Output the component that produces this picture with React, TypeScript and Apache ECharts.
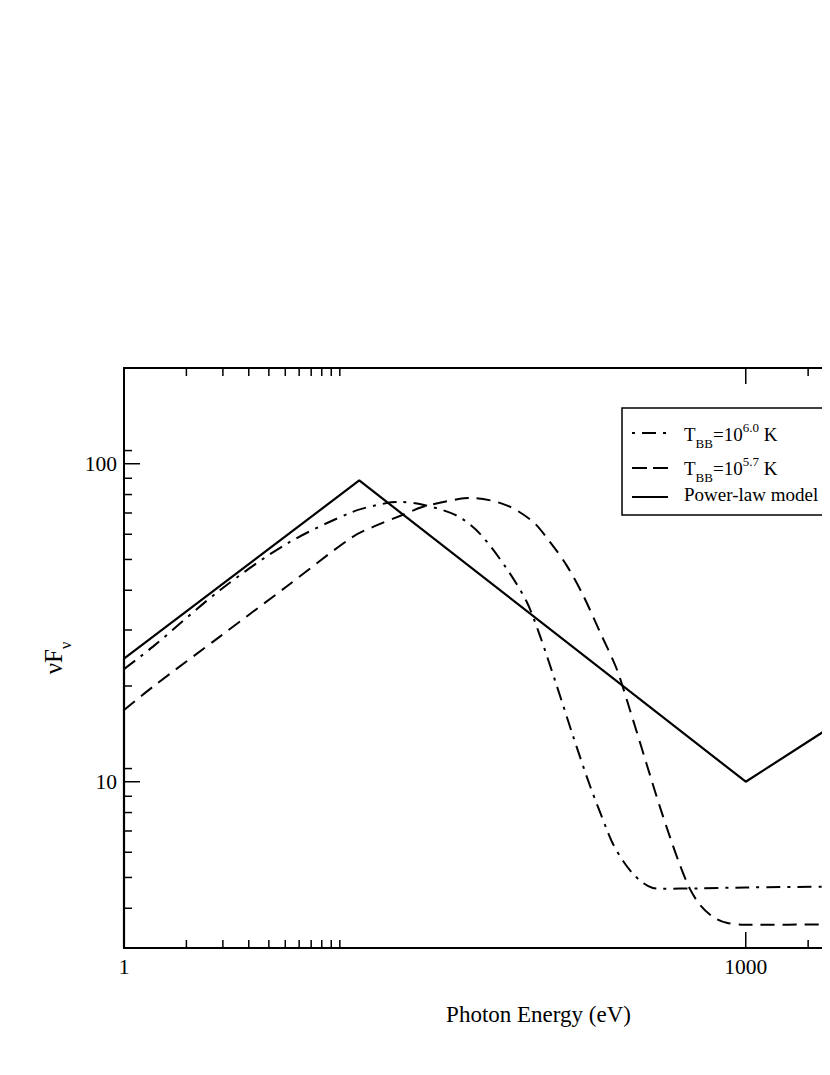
import React, { useEffect, useRef } from "react";
import * as echarts from "echarts";

const FONT = '"Liberation Serif", "Times New Roman", serif';

// axis ranges and labels
const xRange = [1, 10000];
const yRange = [3, 200];
const xLabelValues = [1, 1000];
const yLabelValues = [10, 100];

// tick marks (Grace style: majors plus minors at 2..11 x major)
const xMajorTicks = [1, 1000];
const xMinorTicks = [2, 3, 4, 5, 6, 7, 8, 9, 10, 11, 2000, 3000, 4000, 5000, 6000, 7000, 8000, 9000];
const yMajorTicks = [10, 100];
const yMinorTicks = [4, 5, 6, 7, 8, 9, 11, 20, 30, 40, 50, 60, 70, 80, 90, 110];

// Power-law model
const powerLawX = [1, 1, 13.65, 1000, 3000];
const powerLawY = [3, 24.4, 88.6, 10, 15.85];

// T_BB = 10^6.0 K
const bb60X = [1, 1.38, 2.9, 6.09, 12.7, 18.5, 21.4, 27.7, 40.3, 52.1, 70.2, 87.7, 101.6, 122.3, 146.5, 177, 213, 228.6, 255.5, 285, 319, 356, 385, 601, 1000, 2546, 3000];
const bb60Y = [22.6, 26.6, 40.0, 56.0, 70.6, 75.2, 75.8, 74.3, 68.7, 60.3, 46.8, 36.8, 28.8, 20.1, 13.98, 9.73, 7.11, 6.38, 5.64, 5.14, 4.81, 4.63, 4.61, 4.62, 4.65, 4.68, 4.7];

// T_BB = 10^5.7 K
const bb57X = [1, 1.38, 2.9, 6.09, 12.7, 17.2, 22.2, 27.7, 41.8, 48.3, 70.2, 94.0, 113.5, 136.7, 164.4, 197.8, 238.2, 276, 332, 385, 430.6, 481, 537, 601, 694, 808, 990, 3000];
const bb57Y = [16.8, 19.9, 28.6, 41.1, 58.9, 64.7, 69.1, 73.2, 77.6, 78.0, 74.0, 65.7, 56.8, 47.9, 38.5, 29.6, 22.66, 16.84, 11.39, 8.35, 6.71, 5.48, 4.61, 4.10, 3.76, 3.60, 3.55, 3.56];

const DASH_DOT = [14, 7, 3, 7];
const DASHED = [14, 8];

const isIn = (v: number, arr: number[]) => arr.some((t) => Math.abs(v - t) / t < 1e-6);

type Tick = { x: number; y: number; dir: string; len: number };

function buildTicks(): Tick[] {
  const t: Tick[] = [];
  const add = (vals: number[], len: number) => {
    vals.forEach((v) => {
      t.push({ x: v, y: yRange[0], dir: "up", len });
      t.push({ x: v, y: yRange[1], dir: "down", len });
    });
  };
  const addY = (vals: number[], len: number) => {
    vals.forEach((v) => {
      t.push({ x: xRange[0], y: v, dir: "right", len });
      t.push({ x: xRange[1], y: v, dir: "left", len });
    });
  };
  add(xMajorTicks, 16);
  add(xMinorTicks, 8);
  addY(yMajorTicks, 16);
  addY(yMinorTicks, 8);
  return t;
}

const zip = (xs: number[], ys: number[]) => xs.map((x, i) => [x, ys[i]]);

export default function App() {
  const ref = useRef<HTMLDivElement>(null);
  useEffect(() => {
    const chart = echarts.init(ref.current!, undefined, { renderer: "svg" });
    const ticks = buildTicks();
    const axisLine = { show: true, lineStyle: { color: "#000", width: 2 } };
    const labelStyle = { fontFamily: FONT, fontSize: 21.5, color: "#000" };
    const option: any = {
      animation: false,
      backgroundColor: "#fff",
      grid: { left: 116, top: 360, width: 829, height: 580, containLabel: false },
      xAxis: [
        {
          type: "log",
          logBase: 10,
          min: xRange[0],
          max: xRange[1],
          position: "bottom",
          axisLine,
          axisTick: { show: false },
          minorTick: { show: false },
          splitLine: { show: false },
          axisLabel: {
            ...labelStyle,
            margin: 8,
            formatter: (v: number) => (isIn(v, xLabelValues) ? String(Math.round(v)) : ""),
          },
          name: "Photon Energy (eV)",
          nameLocation: "middle",
          nameGap: 55,
          nameTextStyle: { fontFamily: FONT, fontSize: 23, color: "#000" },
        },
        {
          type: "log",
          logBase: 10,
          min: xRange[0],
          max: xRange[1],
          position: "top",
          axisLine,
          axisTick: { show: false },
          splitLine: { show: false },
          axisLabel: { show: false },
        },
      ],
      yAxis: [
        {
          type: "log",
          logBase: 10,
          min: yRange[0],
          max: yRange[1],
          position: "left",
          axisLine,
          axisTick: { show: false },
          minorTick: { show: false },
          splitLine: { show: false },
          axisLabel: {
            ...labelStyle,
            margin: 7,
            formatter: (v: number) => (isIn(v, yLabelValues) ? String(Math.round(v)) : ""),
          },
        },
        {
          type: "log",
          logBase: 10,
          min: yRange[0],
          max: yRange[1],
          position: "right",
          axisLine,
          axisTick: { show: false },
          splitLine: { show: false },
          axisLabel: { show: false },
        },
      ],
      graphic: [
        {
          type: "text",
          x: 45,
          y: 650,
          rotation: Math.PI / 2,
          style: {
            text: "{m|νF}{s|ν}",
            align: "center",
            verticalAlign: "middle",
            fill: "#000",
            rich: {
              m: { fontFamily: FONT, fontSize: 25, fill: "#000" },
              s: { fontFamily: FONT, fontSize: 16, fill: "#000", padding: [24, 0, 0, 0] },
            },
          },
        },
        {
          type: "rect",
          shape: { x: 614, y: 400, width: 400, height: 107 },
          style: { fill: "#fff", stroke: "#000", lineWidth: 1.5 },
          z: 10,
        },
        {
          type: "line",
          shape: { x1: 624, y1: 425, x2: 660, y2: 425 },
          style: { stroke: "#000", lineWidth: 2, lineDash: DASH_DOT, lineDashOffset: 21 },
          z: 11,
        },
        {
          type: "line",
          shape: { x1: 624, y1: 460, x2: 660, y2: 460 },
          style: { stroke: "#000", lineWidth: 2, lineDash: [15, 6] },
          z: 11,
        },
        {
          type: "line",
          shape: { x1: 624, y1: 489, x2: 660, y2: 489 },
          style: { stroke: "#000", lineWidth: 2 },
          z: 11,
        },
        ...[
          { y: 426, exp: "6.0" },
          { y: 460, exp: "5.7" },
        ].map((r) => ({
          type: "text",
          x: 676,
          y: r.y,
          z: 11,
          style: {
            text: `{m|T}{s|BB}{m|=10}{p|${r.exp}}{m| K}`,
            align: "left",
            verticalAlign: "middle",
            fill: "#000",
            rich: {
              m: { fontFamily: FONT, fontSize: 19, fill: "#000" },
              s: { fontFamily: FONT, fontSize: 13, fill: "#000", padding: [19, 0, 0, 0] },
              p: { fontFamily: FONT, fontSize: 13, fill: "#000", padding: [0, 0, 14, 0] },
            },
          },
        })),
        {
          type: "text",
          x: 676,
          y: 486,
          z: 11,
          style: {
            text: "Power-law model",
            align: "left",
            verticalAlign: "middle",
            fill: "#000",
            fontFamily: FONT,
            fontSize: 19,
          },
        },
      ],
      series: [
        {
          type: "line",
          name: "T_BB=10^6.0 K",
          data: zip(bb60X, bb60Y),
          showSymbol: false,
          symbol: "none",
          smooth: 0.3,
          lineStyle: { color: "#000", width: 2, type: DASH_DOT },
        },
        {
          type: "line",
          name: "T_BB=10^5.7 K",
          data: zip(bb57X, bb57Y),
          showSymbol: false,
          symbol: "none",
          smooth: 0.3,
          lineStyle: { color: "#000", width: 2, type: DASHED },
        },
        {
          type: "line",
          name: "Power-law model",
          data: zip(powerLawX, powerLawY),
          showSymbol: false,
          symbol: "none",
          lineStyle: { color: "#000", width: 2.2 },
        },
        {
          type: "custom",
          coordinateSystem: "cartesian2d",
          xAxisIndex: 0,
          yAxisIndex: 0,
          silent: true,
          clip: false,
          data: ticks.map((t) => [t.x, t.y]),
          renderItem: (params: any, api: any) => {
            const t = ticks[params.dataIndex];
            const p = api.coord([api.value(0), api.value(1)]);
            const dx = t.dir === "right" ? t.len : t.dir === "left" ? -t.len : 0;
            const dy = t.dir === "up" ? -t.len : t.dir === "down" ? t.len : 0;
            return {
              type: "line",
              shape: { x1: p[0], y1: p[1], x2: p[0] + dx, y2: p[1] + dy },
              style: { stroke: "#000", lineWidth: 1.5 },
            };
          },
        },
      ],
    };
    chart.setOption(option);
    return () => chart.dispose();
  }, []);
  return (
    <div style={{ width: 822, height: 1055, overflow: "hidden", position: "relative" }}>
      <div ref={ref} style={{ width: 1000, height: 1055 }} />
    </div>
  );
}
